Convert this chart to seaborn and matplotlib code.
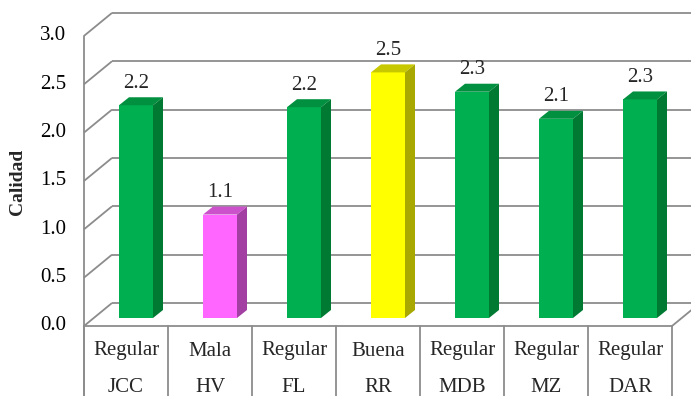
import matplotlib
matplotlib.use("Agg")
import matplotlib.pyplot as plt
from matplotlib.patches import Polygon
import seaborn as sns
import pandas as pd

# Data
names = ["JCC", "HV", "FL", "RR", "MDB", "MZ", "DAR"]
ratings = ["Regular", "Mala", "Regular", "Buena", "Regular", "Regular", "Regular"]
scores = [2.20, 1.07, 2.18, 2.54, 2.34, 2.06, 2.26]
y_ticks = [0.0, 0.5, 1.0, 1.5, 2.0, 2.5, 3.0]
y_label = "Calidad"

# Face / top / side shades for each rating
face_colors = {"Regular": "#00B050", "Mala": "#FF66FF", "Buena": "#FFFF00"}
top_colors = {"Regular": "#00903F", "Mala": "#CC52CC", "Buena": "#C8C800"}
side_colors = {"Regular": "#007A33", "Mala": "#A33FA3", "Buena": "#A8A800"}

sns.set_style("white")
plt.rcParams["font.family"] = ["Liberation Serif", "DejaVu Serif"]

W, H = 691, 396
fig = plt.figure(figsize=(W / 100, H / 100), dpi=100)
ax = fig.add_axes([0, 0, 1, 1])

# Pixel geometry of the bar plane
px_x0, px_step = 136.0, 84.0      # centre of first category, category width
py_zero, py_unit = 318.0, 96.7    # baseline row, pixels per unit
sx, sy = 1 / px_step, 1 / py_unit  # one pixel in data units

df = pd.DataFrame({"name": names, "rating": ratings, "score": scores})
sns.barplot(data=df, x="name", y="score", hue="name",
            palette=[face_colors[r] for r in ratings], saturation=1,
            width=34 / px_step, linewidth=0, legend=False, ax=ax, zorder=3)

ax.set_xlim(-px_x0 * sx, (W - px_x0) * sx)
ax.set_ylim((py_zero - H) * sy, py_zero * sy)
ax.axis("off")

# Depth offsets of the front and back planes relative to the bar plane
fx, fy = -10 * sx, -8 * sy
bx, by = 18 * sx, 15 * sy
# Depth of each bar
dx, dy = 10 * sx, 8 * sy

grid_c = "#8C8C8C"
lw = 1.3
fs = 15
n = len(names)
left_f = -0.5 + fx
right_f = n - 0.5 + fx
left_b = -0.5 + bx
right_b = n - 0.5 + bx
bottom = (py_zero - H) * sy

# Walls: left-wall diagonals and back-wall gridlines
for v in y_ticks:
    ax.plot([left_f, left_b], [v + fy, v + by], color=grid_c, lw=lw, zorder=1,
            solid_capstyle="butt")
    ax.plot([left_b, right_b], [v + by, v + by], color=grid_c, lw=lw, zorder=1,
            solid_capstyle="butt")
    ax.text(left_f - 18 * sx, v + fy, f"{v:.1f}", ha="right", va="center",
            fontsize=fs, color="black")

# Left edge, floor front edge and floor right edge
ax.plot([left_f, left_f], [bottom, y_ticks[-1] + fy], color=grid_c, lw=lw, zorder=1)
ax.plot([left_f, right_f], [fy, fy], color=grid_c, lw=lw, zorder=1)
ax.plot([right_f, right_b], [fy, by], color=grid_c, lw=lw, zorder=1)

# Category table below the floor
for i in range(n + 1):
    xb = i - 0.5 + fx
    ax.plot([xb, xb], [bottom, fy], color=grid_c, lw=lw, zorder=1)
for i, (r, nm) in enumerate(zip(ratings, names)):
    ax.text(i + fx, (py_zero - 351) * sy, r, ha="center", va="center", fontsize=fs)
    ax.text(i + fx, (py_zero - 387) * sy, nm, ha="center", va="center", fontsize=fs)

# Tops, sides and value labels of the bars
for bar, r, val in zip(ax.patches, ratings, scores):
    x0 = bar.get_x()
    x1 = x0 + bar.get_width()
    h = bar.get_height()
    ax.add_patch(Polygon([(x0, h), (x1, h), (x1 + dx, h + dy), (x0 + dx, h + dy)],
                         closed=True, facecolor=top_colors[r], edgecolor="none", zorder=3))
    ax.add_patch(Polygon([(x1, 0), (x1 + dx, dy), (x1 + dx, h + dy), (x1, h)],
                         closed=True, facecolor=side_colors[r], edgecolor="none", zorder=3))
    ax.text((x0 + x1) / 2, h + dy + 14 * sy, f"{val:.1f}", ha="center", va="center",
            fontsize=fs, zorder=4)

ax.text(18 * sx - px_x0 * sx, (py_zero - 182) * sy, y_label, rotation=90,
        ha="center", va="center", fontsize=14, fontweight="bold")

fig.savefig("out.png", dpi=100)
